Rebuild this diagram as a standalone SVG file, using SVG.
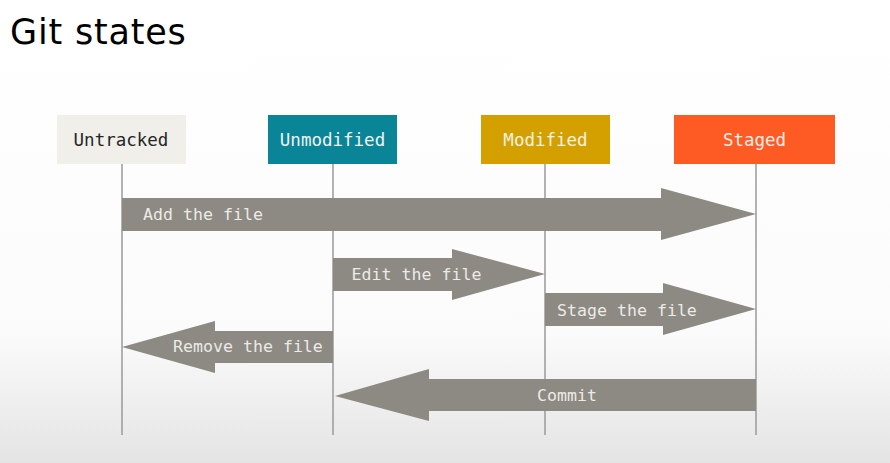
<svg xmlns="http://www.w3.org/2000/svg" width="890" height="463" viewBox="0 0 890 463">
  <defs>
    <linearGradient id="bg" x1="0" y1="0" x2="0" y2="1">
      <stop offset="0" stop-color="#ffffff"/>
      <stop offset="0.72" stop-color="#fbfbfb"/>
      <stop offset="1" stop-color="#e4e4e4"/>
    </linearGradient>
    <style>
      .title { font-family: "DejaVu Sans", sans-serif; font-size: 35px; letter-spacing: 0.8px; fill: #000; }
      .box-label { font-family: "DejaVu Sans Mono", "Liberation Mono", monospace; font-size: 17.5px; text-anchor: middle; }
      .life { stroke: #9a9a9a; stroke-width: 1.5; fill: none; }
      .arrow { fill: #8d8983; }
      .arrow-label { font-family: "DejaVu Sans Mono", "Liberation Mono", monospace; font-size: 16.6px; fill: #ecebe6; }
    </style>
  </defs>
  <rect x="0" y="0" width="890" height="463" fill="url(#bg)"/>
  <text class="title" x="10" y="44">Git states</text>

  <g id="lifelines">
    <line class="life" x1="122" y1="164" x2="122" y2="435"/>
    <line class="life" x1="333" y1="164" x2="333" y2="435"/>
    <line class="life" x1="545" y1="164" x2="545" y2="435"/>
    <line class="life" x1="756" y1="164" x2="756" y2="435"/>
  </g>

  <g id="untracked">
    <rect x="57" y="115" width="129" height="49" fill="#f0efe9"/>
    <text class="box-label" x="121" y="146" fill="#262626">Untracked</text>
  </g>
  <g id="unmodified">
    <rect x="268" y="115" width="129" height="49" fill="#0a8497"/>
    <text class="box-label" x="332.5" y="146" fill="#eef3f3">Unmodified</text>
  </g>
  <g id="modified">
    <rect x="481" y="115" width="129" height="49" fill="#d4a000"/>
    <text class="box-label" x="545.5" y="146" fill="#f6f1e2">Modified</text>
  </g>
  <g id="staged">
    <rect x="674" y="115" width="161" height="49" fill="#fe5b24"/>
    <text class="box-label" x="754.5" y="146" fill="#fbeee8">Staged</text>
  </g>

  <g id="connectors">
    <g id="add">
      <polygon class="arrow" points="122,198 661,198 661,188 756,214 661,240 661,231 122,231"/>
      <text class="arrow-label" x="143" y="220">Add the file</text>
    </g>
    <g id="edit">
      <polygon class="arrow" points="333,258 452,258 452,249 545,274 452,300 452,291 333,291"/>
      <text class="arrow-label" x="351.5" y="280">Edit the file</text>
    </g>
    <g id="stage">
      <polygon class="arrow" points="545,293 663,293 663,283 756,309 663,335 663,326 545,326"/>
      <text class="arrow-label" x="557" y="316">Stage the file</text>
    </g>
    <g id="remove">
      <polygon class="arrow" points="333,331 215,331 215,321 122,347 215,373 215,363 333,363"/>
      <text class="arrow-label" x="173" y="352">Remove the file</text>
    </g>
    <g id="commit">
      <polygon class="arrow" points="756,379 429,379 429,369 335,396 429,421 429,411 756,411"/>
      <text class="arrow-label" x="567" y="401" text-anchor="middle">Commit</text>
    </g>
  </g>
</svg>
